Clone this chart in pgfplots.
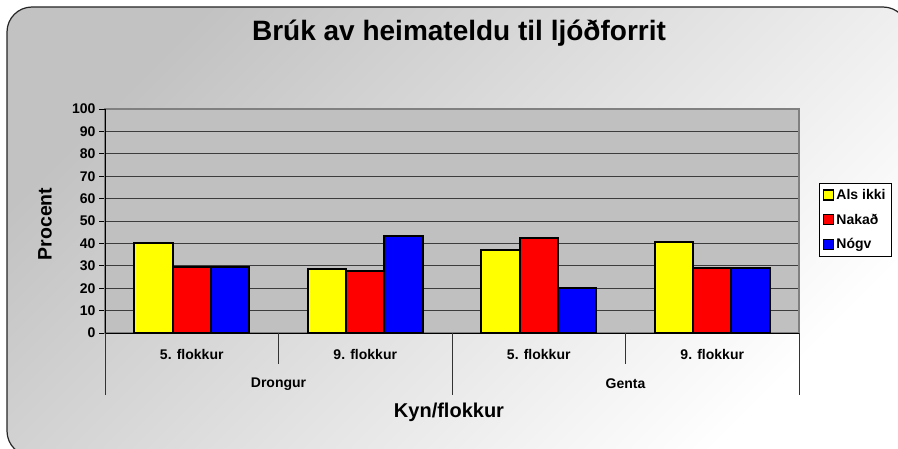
\documentclass[border=0pt]{standalone}
\usepackage{fontspec}
\setmainfont{Liberation Sans}
\usepackage{pgfplots}
\pgfplotsset{compat=1.18}

\definecolor{plotbg}{RGB}{192,192,192}
\definecolor{gridc}{RGB}{60,60,60}
\definecolor{frameg}{RGB}{128,128,128}
\definecolor{bgdark}{RGB}{194,194,194}
\definecolor{xlyellow}{RGB}{255,255,0}
\definecolor{xlred}{RGB}{255,0,0}
\definecolor{xlblue}{RGB}{0,0,255}

\newcommand{\smallbf}{\fontsize{14}{16}\selectfont\bfseries}

\begin{document}
\begin{tikzpicture}
\path[use as bounding box] (0pt,0pt) rectangle (898pt,448pt);
% chart area, bottom and right edges run past the page
\shade[rounded corners=25pt, left color=bgdark, right color=white, shading angle=45]
  (7pt,-8pt) rectangle (908pt,441pt);
\draw[rounded corners=25pt, black!85, line width=1.2pt] (7pt,-8pt) rectangle (908pt,441pt);

\node[font=\fontsize{28}{31}\selectfont\bfseries] at (459pt,415pt) {Brúk av heimateldu til ljóðforrit};
\node[rotate=90, font=\fontsize{19.5}{22}\selectfont\bfseries] at (45pt,224pt) {Procent};
\node[font=\fontsize{20}{23}\selectfont\bfseries] at (449pt,36pt) {Kyn/flokkur};

\begin{axis}[
  at={(105pt,115pt)}, anchor=south west,
  scale only axis, width=694pt, height=224pt,
  xmin=0, xmax=4, ymin=0, ymax=100,
  ybar=0pt, bar width=0.2213,
  xtick=\empty,
  ytick={0,10,...,90},
  extra y ticks={100},
  extra y tick style={grid=none},
  ymajorgrids,
  major grid style={gridc, line width=1pt},
  axis background/.style={fill=plotbg},
  axis line style={frameg, line width=1.2pt},
  tick style={black, line width=0.8pt},
  major tick length=6pt,
  tick align=outside,
  ytick pos=left,
  /pgf/number format/assume math mode=true,
  ticklabel style={font=\smallbf},
  clip=false,
  legend style={at={(1.0288,0.6696)}, anchor=north west, draw=black, fill=white,
    font=\smallbf, row sep=9pt, inner sep=4pt},
  legend cell align=left,
  legend image code/.code={\draw[#1, line width=1.3pt] (0pt,-5pt) rectangle (10pt,5pt);},
]
\addplot[fill=xlyellow, draw=black, line width=2pt] coordinates {(0.5,40.0) (1.5,28.6) (2.5,37.0) (3.5,40.8)};
\addplot[fill=xlred, draw=black, line width=2pt] coordinates {(0.5,29.6) (1.5,27.7) (2.5,42.3) (3.5,29.2)};
\addplot[fill=xlblue, draw=black, line width=2pt] coordinates {(0.5,29.6) (1.5,43.3) (2.5,20.2) (3.5,29.2)};
\legend{Als ikki, Nakað, Nógv}

\draw[black, line width=1pt] (rel axis cs:0,0) -- (rel axis cs:0,1);
\draw[black, line width=1pt] (rel axis cs:0,0) -- (rel axis cs:1,0);
\draw[black!80, line width=0.8pt] (axis cs:0,0) -- ++(0pt,-62pt);
\draw[black!80, line width=0.8pt] (axis cs:2,0) -- ++(0pt,-62pt);
\draw[black!80, line width=0.8pt] (axis cs:4,0) -- ++(0pt,-62pt);
\draw[black!80, line width=0.8pt] (axis cs:1,0) -- ++(0pt,-31pt);
\draw[black!80, line width=0.8pt] (axis cs:3,0) -- ++(0pt,-31pt);
\node[font=\smallbf, yshift=-21pt] at (axis cs:0.5,0) {5. flokkur};
\node[font=\smallbf, yshift=-21pt] at (axis cs:1.5,0) {9. flokkur};
\node[font=\smallbf, yshift=-21pt] at (axis cs:2.5,0) {5. flokkur};
\node[font=\smallbf, yshift=-21pt] at (axis cs:3.5,0) {9. flokkur};
\node[font=\smallbf, yshift=-51pt] at (axis cs:1,0) {Drongur};
\node[font=\smallbf, yshift=-51pt] at (axis cs:3,0) {Genta};
\end{axis}
\end{tikzpicture}
\end{document}
